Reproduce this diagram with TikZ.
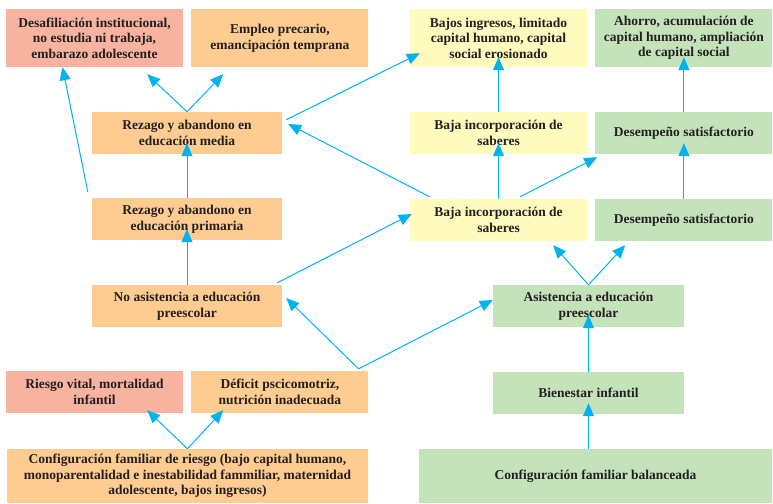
\documentclass[tikz,border=0pt]{standalone}
\usepackage{fontspec}
\setmainfont{Liberation Serif}
\usepackage{xcolor}
\usepackage{tikz}
\usetikzlibrary{arrows.meta, positioning}
\usetikzlibrary{calc}

\definecolor{riskred}{RGB}{247,179,159}
\definecolor{riskorange}{RGB}{254,204,145}
\definecolor{riskyellow}{RGB}{255,251,191}
\definecolor{goodgreen}{RGB}{196,227,186}
\definecolor{linkblue}{RGB}{0,178,240}
\definecolor{inktext}{RGB}{35,31,32}

\begin{document}
\begin{tikzpicture}[
  x=1pt, y=-1pt,
  component/.style={rectangle, fill=#1, inner sep=2pt, align=center, text=inktext,
    font=\bfseries\fontsize{13.5}{15.6}\selectfont},
  narrow/.style={minimum width=177pt, minimum height=42pt},
  broad/.style={minimum width=190pt, minimum height=42pt},
  tall/.style={minimum width=177pt, minimum height=58pt},
  conn/.style={draw=linkblue, line width=1pt, -{Triangle[length=13pt,width=11pt]}},
  node distance=8pt
]
\useasboundingbox (0,0) rectangle (773,503);

% Nodes
\node[component=riskred, tall] (desaf) at (94.5,38) {Desafiliación institucional,\\ no estudia ni trabaja,\\ embarazo adolescente};
\node[component=riskorange, tall, right=of desaf] (empleo) {Empleo precario,\\ emancipación temprana};
\node[component=riskyellow, tall] (bajos) at (498.5,38) {Bajos ingresos, limitado\\ capital humano, capital\\ social erosionado};
\node[component=goodgreen, tall, right=of bajos] (ahorro) {Ahorro, acumulación de\\ capital humano, ampliación\\ de capital social};

\node[component=riskorange, broad] (media) at (187,133) {Rezago y abandono en\\ educación media};
\node[component=riskyellow, narrow] (sabA) at (498.5,133) {Baja incorporación de\\ saberes};
\node[component=goodgreen, narrow, right=of sabA] (desemA) {Desempeño satisfactorio};

\node[component=riskorange, broad] (primaria) at (187,219) {Rezago y abandono en\\ educación primaria};
\node[component=riskyellow, narrow] (sabB) at (498.5,220) {Baja incorporación de\\ saberes};
\node[component=goodgreen, narrow, right=of sabB] (desemB) {Desempeño satisfactorio};

\node[component=riskorange, broad] (noasist) at (187,306) {No asistencia a educación\\ preescolar};
\node[component=goodgreen, minimum width=191pt, minimum height=42pt] (asist) at (588.5,306) {Asistencia a educación\\ preescolar};

\node[component=riskred, narrow] (riesgo) at (94.5,392) {Riesgo vital, mortalidad\\ infantil};
\node[component=riskorange, narrow, right=of riesgo] (deficit) {Déficit pscicomotriz,\\ nutrición inadecuada};
\node[component=goodgreen, minimum width=191pt, minimum height=42pt] (bienestar) at (588.5,393) {Bienestar infantil};

\node[component=riskorange, minimum width=361pt, minimum height=54pt] (confR) at (187.5,476) {Configuración familiar de riesgo (bajo capital humano,\\ monoparentalidad e inestabilidad fammiliar, maternidad\\ adolescente, bajos ingresos)};
\node[component=goodgreen, minimum width=353pt, minimum height=54pt] (confB) at (595.5,476) {Configuración familiar balanceada};

% Connections, risk side
\draw[conn] (confR.north) -- ([xshift=-36pt,yshift=3pt]riesgo.south east);
\draw[conn] (confR.north) -- ([xshift=32pt,yshift=3pt]deficit.south west);

\draw[conn] ([xshift=-10pt,yshift=2pt]deficit.north east) -- ([xshift=4pt,yshift=8pt]noasist.east);
\draw[conn] ([xshift=-10pt,yshift=2pt]deficit.north east) -- ([yshift=6pt]asist.west);

\draw[conn] (noasist.north) -- ([yshift=11pt]primaria.south);
\draw[conn] ([xshift=-5pt,yshift=2pt]noasist.north east) -- ([xshift=2pt,yshift=6pt]sabB.west);

\draw[conn] (primaria.north) -- ([yshift=11pt]media.south);
\draw[conn] ([xshift=-4pt,yshift=6pt]primaria.north west) -- ([xshift=-32pt]desaf.south);

\draw[conn] (media.north) -- ([xshift=-36pt,yshift=-7pt]desaf.south east);
\draw[conn] (media.north) -- ([xshift=32pt,yshift=-7pt]empleo.south west);
\draw[conn] ([xshift=4pt,yshift=-8pt]media.north east) -- ([xshift=10pt,yshift=14pt]bajos.south west);

\draw[conn] ([xshift=20pt,yshift=2pt]sabB.north west) -- ([xshift=6pt,yshift=9pt]media.east);
\draw[conn] (sabB.north) -- ([yshift=11pt]sabA.south);
\draw[conn] ([xshift=21.5pt,yshift=2pt]sabB.north) -- ([xshift=2pt,yshift=-3pt]desemA.south west);
\draw[conn] (sabA.north) -- ([yshift=10pt]bajos.south);

% Connections, balanced side
\draw[conn] (confB.north -| bienestar.south) -- ([yshift=11pt]bienestar.south);
\draw[conn] (bienestar.north) -- ([yshift=12pt]asist.south);
\draw[conn] (asist.north) -- ([xshift=-34pt,yshift=-4pt]sabB.south east);
\draw[conn] (asist.north) -- ([xshift=30pt,yshift=-4pt]desemB.south west);

\draw[conn] (desemB.north) -- ([yshift=11pt]desemA.south);
\draw[conn] (desemA.north) -- ([yshift=10pt]ahorro.south);

\end{tikzpicture}
\end{document}
